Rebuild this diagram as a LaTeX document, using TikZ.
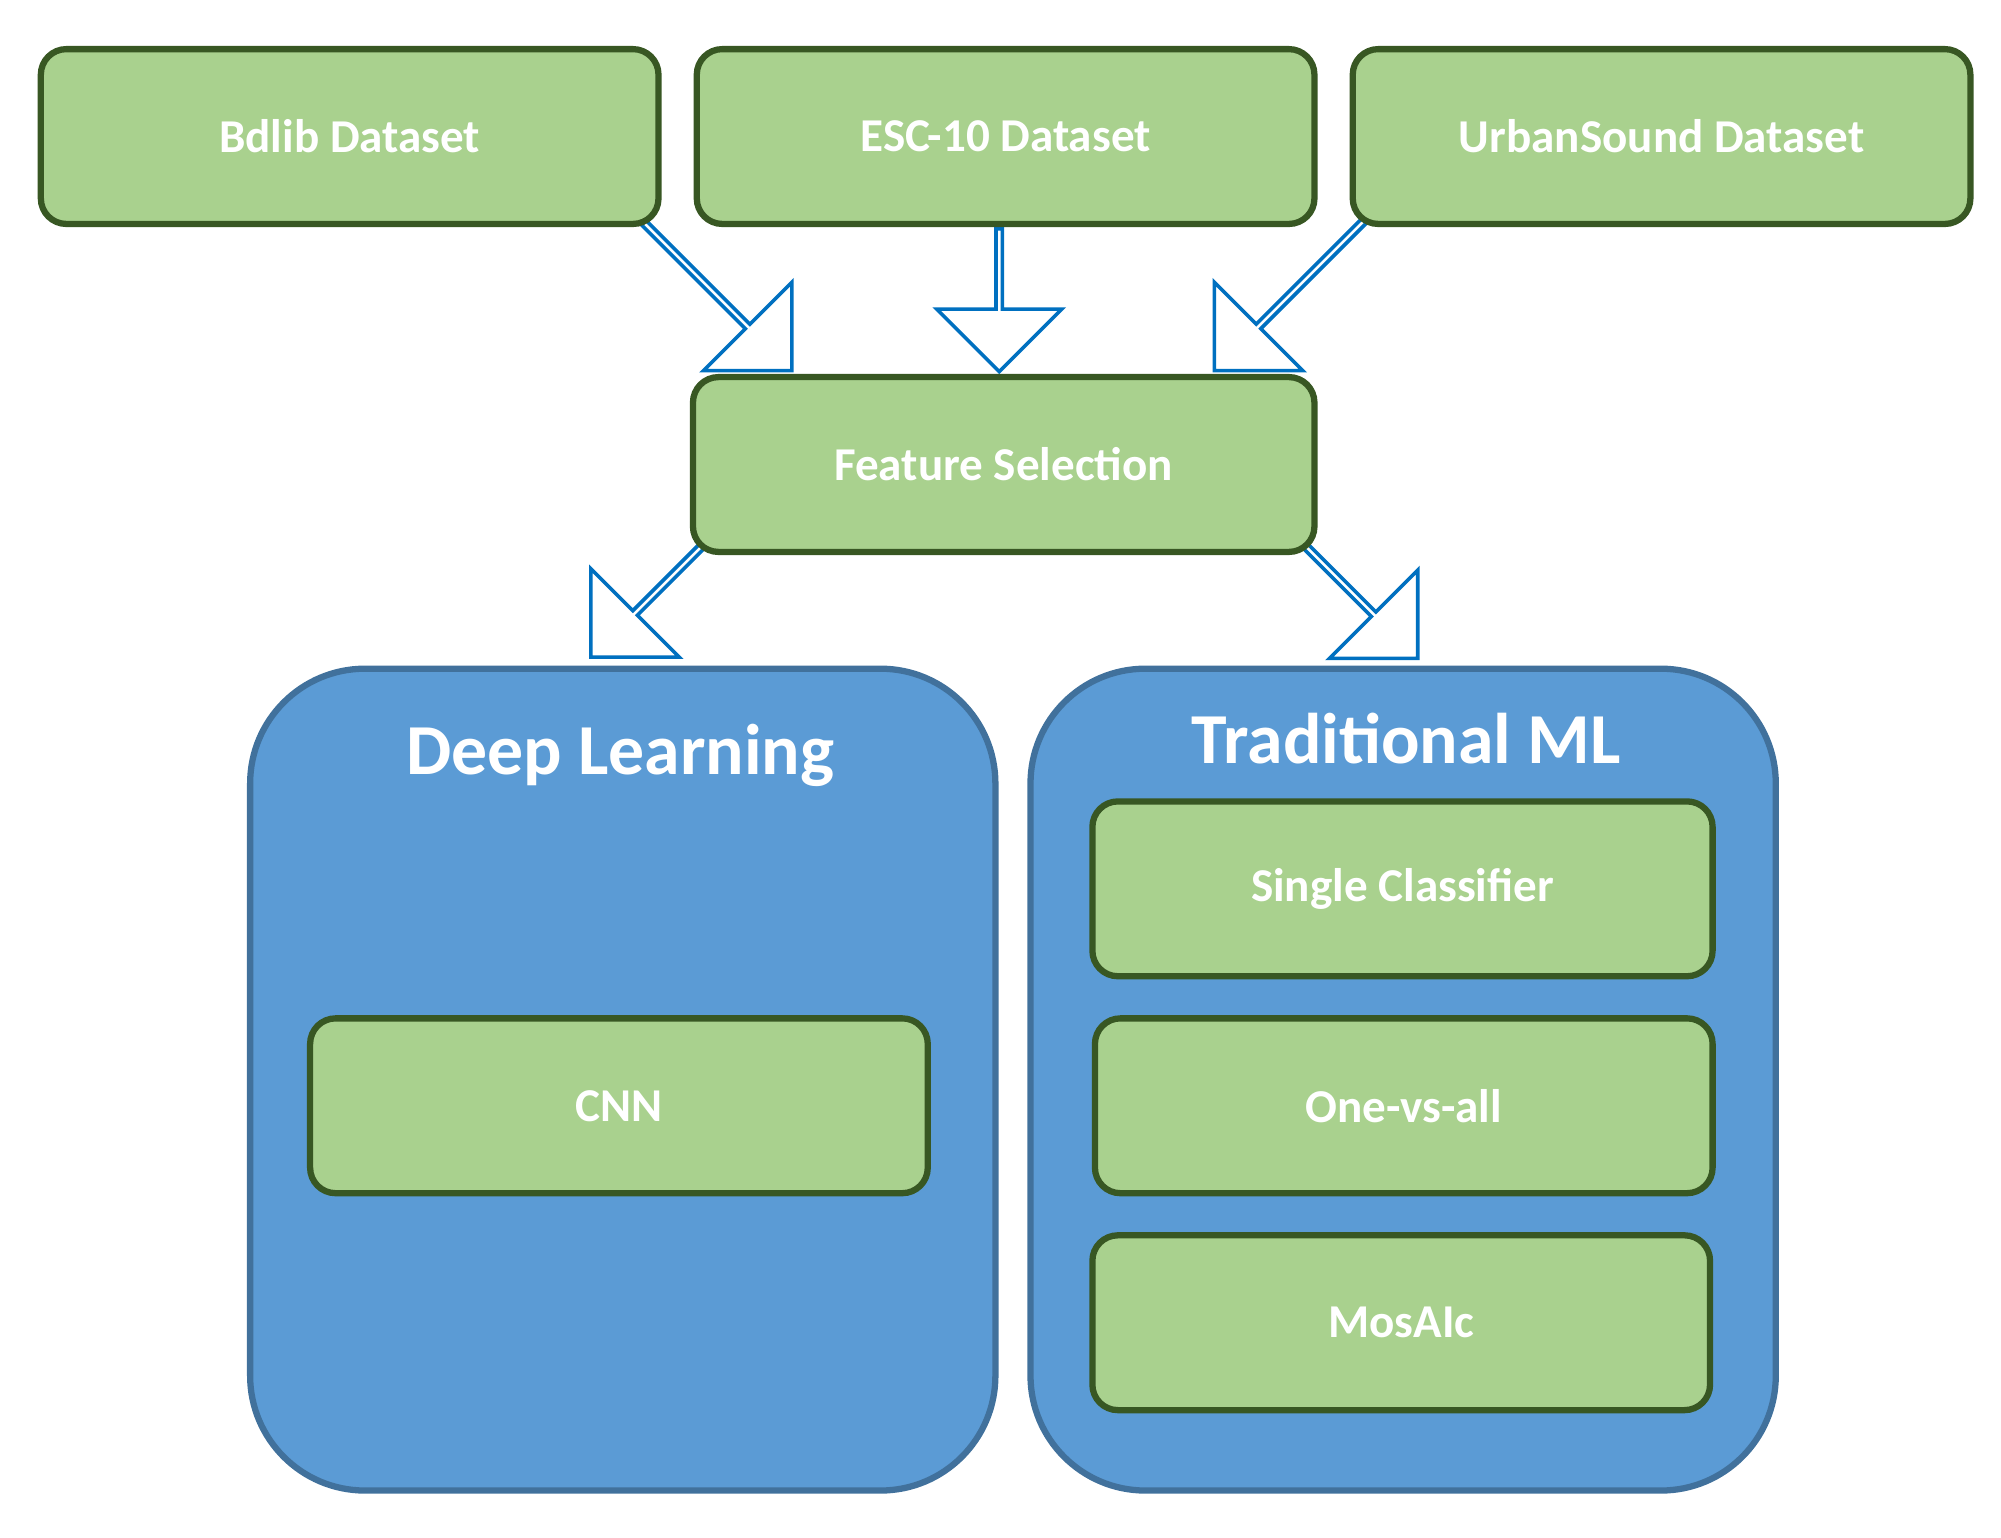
\documentclass[tikz,border=0pt]{standalone}
\usepackage{fontspec}
\setmainfont{Carlito}
\usetikzlibrary{shapes.arrows}
\definecolor{boxgreen}{RGB}{169,209,142}
\definecolor{edgegreen}{RGB}{56,87,35}
\definecolor{panelblue}{RGB}{91,155,213}
\definecolor{edgeblue}{RGB}{65,113,156}
\definecolor{arrowblue}{RGB}{0,112,192}

\tikzset{
  stage/.style={draw=edgegreen, fill=boxgreen, line width=1.4pt, rounded corners=0.2cm,
    minimum width=4.84cm, minimum height=1.37cm, text=white,
    font=\fontsize{10.5}{12}\selectfont\bfseries},
  panel/.style={draw=edgeblue, fill=panelblue, line width=1.4pt, rounded corners=0.9cm,
    minimum width=5.84cm, minimum height=6.44cm},
  title/.style={text=white, font=\fontsize{16}{19}\selectfont\bfseries},
  flow/.style={single arrow, draw=arrowblue, fill=white, line width=0.8pt,
    minimum width=0.98cm, single arrow head extend=0.26cm, inner sep=0pt}
}

\begin{document}
\begin{tikzpicture}
    \useasboundingbox (0,0) rectangle (15.68,-12.05);
    % hollow arrows, behind the boxes
    \node[flow, minimum height=1.77cm, rotate=-45] (a1) at (5.57,-2.27) {};
    \node[flow, minimum height=1.12cm, rotate=-90] (a2) at (7.83,-2.34) {};
    \node[flow, minimum height=1.77cm, rotate=-135] (a3) at (10.15,-2.27) {};
    \node[flow, minimum height=1.36cm, rotate=-135] (a4) at (5.12,-4.66) {};
    \node[flow, minimum height=1.36cm, rotate=-45] (a5) at (10.62,-4.67) {};
    % data sets
    \node[stage] (bdlib) at (2.74,-1.07) {Bdlib Dataset};
    \node[stage] (esc) at (7.88,-1.07) {ESC-10 Dataset};
    \node[stage] (urban) at (13.02,-1.07) {UrbanSound Dataset};
    \node[stage, minimum width=4.87cm] (feat) at (7.865,-3.64) {Feature Selection};
    % model families
    \node[panel] (deep) at (4.88,-8.46) {};
    \node[panel] (trad) at (10.995,-8.46) {};
    \node[title] (deeplbl) at (4.86,-5.92) {Deep Learning};
    \node[title] (tradlbl) at (11.02,-5.79) {Traditional ML};
    \node[stage] (cnn) at (4.85,-8.665) {CNN};
    \node[stage, minimum width=4.86cm] (single) at (10.99,-6.965) {Single Classifier};
    \node[stage] (ova) at (11.00,-8.665) {One-vs-all};
    \node[stage] (mosaic) at (10.98,-10.365) {MosAIc};
\end{tikzpicture}
\end{document}
